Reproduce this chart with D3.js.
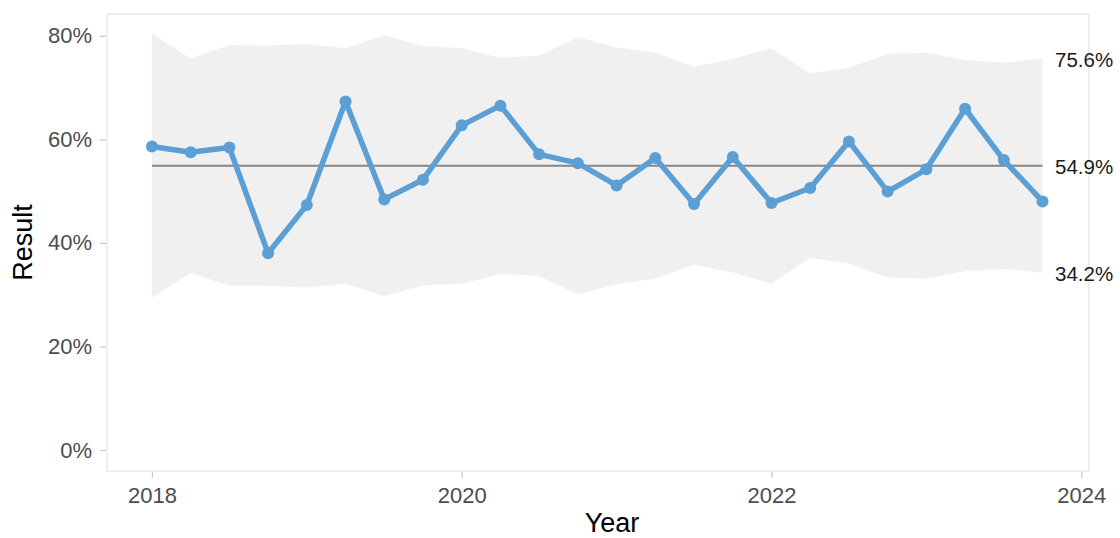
<!DOCTYPE html>
<html>
<head>
<meta charset="utf-8">
<script src="https://cdn.jsdelivr.net/npm/d3@7"></script>
<style>
  html, body { margin: 0; padding: 0; background: #fff; }
  svg { display: block; font-family: "Liberation Sans", Arial, sans-serif; }
</style>
</head>
<body>
<svg id="chart" width="1120" height="538"></svg>
<script>
// ---- data ----
const periods = [2018, 2018.25, 2018.5, 2018.75, 2019, 2019.25, 2019.5, 2019.75,
                 2020, 2020.25, 2020.5, 2020.75, 2021, 2021.25, 2021.5, 2021.75,
                 2022, 2022.25, 2022.5, 2022.75, 2023, 2023.25, 2023.5, 2023.75];
const results = [58.6, 57.5, 58.4, 38.0, 47.3, 67.3, 48.4, 52.2,
                 62.7, 66.5, 57.1, 55.4, 51.1, 56.4, 47.5, 56.6,
                 47.7, 50.6, 59.6, 49.9, 54.2, 65.9, 56.0, 48.0];
const upperLimit = [80.4, 75.6, 78.2, 78.1, 78.4, 77.6, 80.1, 78.0,
                    77.6, 75.7, 76.2, 79.7, 77.8, 76.7, 74.0, 75.5,
                    77.6, 72.7, 73.8, 76.5, 76.7, 75.3, 74.8, 75.6];
const lowerLimit = [29.4, 34.2, 31.7, 31.7, 31.4, 32.1, 29.7, 31.8,
                    32.1, 34.0, 33.6, 30.1, 32.0, 33.1, 35.8, 34.3,
                    32.1, 37.1, 36.0, 33.3, 33.1, 34.5, 35.0, 34.2];
const centerValue = 54.9;
const yTicks = [0, 20, 40, 60, 80];
const xTicks = [2018, 2020, 2022, 2024];
const endLabels = [75.6, 54.9, 34.2];

// ---- layout ----
const svg = d3.select("#chart");
const panel = { left: 107, right: 1089, top: 14, bottom: 471 };

const x = d3.scaleLinear().domain([2017.71, 2024.05]).range([panel.left, panel.right]);
const y = d3.scaleLinear().domain([-4.05, 84.2]).range([panel.bottom, panel.top]);

const rows = periods.map((p, i) => ({ p, v: results[i], u: upperLimit[i], l: lowerLimit[i] }));

// control band
svg.append("path")
  .datum(rows)
  .attr("fill", "#f0f0f0")
  .attr("d", d3.area().x(d => x(d.p)).y0(d => y(d.l)).y1(d => y(d.u)));

// panel border
svg.append("rect")
  .attr("x", panel.left).attr("y", panel.top)
  .attr("width", panel.right - panel.left).attr("height", panel.bottom - panel.top)
  .attr("fill", "none").attr("stroke", "#e3e3e3").attr("stroke-width", 1.2);

// center line
svg.append("line")
  .attr("x1", x(periods[0])).attr("x2", x(periods[periods.length - 1]))
  .attr("y1", y(centerValue)).attr("y2", y(centerValue))
  .attr("stroke", "#868686").attr("stroke-width", 2.2);

// series line
svg.append("path")
  .datum(rows)
  .attr("fill", "none")
  .attr("stroke", "#5b9fd5")
  .attr("stroke-width", 5.5)
  .attr("stroke-linejoin", "round")
  .attr("d", d3.line().x(d => x(d.p)).y(d => y(d.v)));

svg.append("g").selectAll("circle")
  .data(rows).join("circle")
  .attr("cx", d => x(d.p)).attr("cy", d => y(d.v))
  .attr("r", 6).attr("fill", "#5b9fd5");

// y axis
const yAxis = d3.axisLeft(y).tickValues(yTicks).tickSize(6).tickPadding(8)
  .tickFormat(d => d + "%");
const gy = svg.append("g").attr("transform", `translate(${panel.left - 1},0)`).call(yAxis);
gy.select(".domain").remove();
gy.selectAll(".tick line").attr("stroke", "#c8c8c8").attr("stroke-width", 1.2);
gy.selectAll(".tick text").attr("fill", "#4d4d4d").style("font-size", "22px")
  .style("font-family", "'Liberation Sans', Arial, sans-serif");

// x axis
const xAxis = d3.axisBottom(x).tickValues(xTicks).tickSize(6).tickPadding(9)
  .tickFormat(d3.format("d"));
const gx = svg.append("g").attr("transform", `translate(0,${panel.bottom + 1})`).call(xAxis);
gx.select(".domain").remove();
gx.selectAll(".tick line").attr("stroke", "#c8c8c8").attr("stroke-width", 1.2);
gx.selectAll(".tick text").attr("fill", "#4d4d4d").style("font-size", "22px")
  .style("font-family", "'Liberation Sans', Arial, sans-serif");

// end labels
svg.append("g").selectAll("text")
  .data(endLabels).join("text")
  .attr("x", 1055).attr("y", d => y(d))
  .attr("dy", "0.4em")
  .attr("fill", "#1a1a1a")
  .style("font-size", "20.5px")
  .text(d => d.toFixed(1) + "%");

// axis titles
svg.append("text")
  .attr("x", 612).attr("y", 532)
  .attr("text-anchor", "middle")
  .attr("fill", "#000")
  .style("font-size", "27px")
  .text("Year");

svg.append("text")
  .attr("transform", `translate(32,${(panel.top + panel.bottom) / 2}) rotate(-90)`)
  .attr("text-anchor", "middle")
  .attr("fill", "#000")
  .style("font-size", "27px")
  .text("Result");
</script>
</body>
</html>
